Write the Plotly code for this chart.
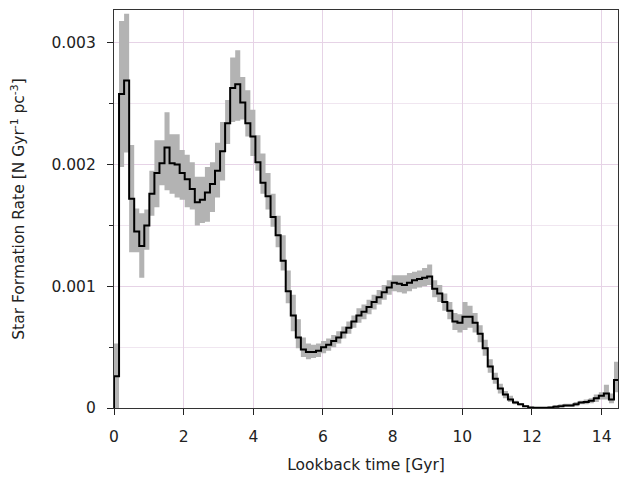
import numpy as np
import plotly.graph_objects as go

# ---- data ----
n_bins = 100
bin_width = 0.145  # Gyr
sfr = [0.00026, 0.00258, 0.00269, 0.00172, 0.00145, 0.00133, 0.00150, 0.00176, 0.00193, 0.00201,
       0.00214, 0.00201, 0.00200, 0.00193, 0.00188, 0.00180, 0.00169, 0.00171, 0.00177, 0.00184,
       0.00195, 0.00211, 0.00234, 0.00263, 0.00266, 0.00251, 0.00234, 0.00223, 0.00202, 0.00185,
       0.00174, 0.00157, 0.00142, 0.00121, 0.00096, 0.00076, 0.00058, 0.00048, 0.00046, 0.00046,
       0.00047, 0.00050, 0.00052, 0.00055, 0.00058, 0.00062, 0.00066, 0.00071, 0.00076, 0.00079,
       0.00083, 0.00087, 0.00091, 0.00095, 0.00099, 0.00103, 0.00102, 0.00101, 0.00103, 0.00105,
       0.00106, 0.00107, 0.00108, 0.00098, 0.00094, 0.00087, 0.00080, 0.00071, 0.00070, 0.00075,
       0.00075, 0.00070, 0.00061, 0.00049, 0.00034, 0.00024, 0.00016, 0.00011, 0.00007, 0.000045,
       0.00003, 0.000015, 0.000005, 0.000003, 0.000003, 0.000003, 0.000005, 0.00001, 0.000015, 0.00002,
       0.00002, 0.00003, 0.000045, 0.00005, 0.00006, 0.00008, 0.0001, 0.00012, 0.00007, 0.00023]
sfr_lo = [0.0, 0.00198, 0.00210, 0.00128, 0.00128, 0.00107, 0.00130, 0.00158, 0.00165, 0.00183,
          0.00179, 0.00176, 0.00173, 0.00171, 0.00165, 0.00163, 0.00150, 0.00152, 0.00153, 0.00161,
          0.00173, 0.00187, 0.00217, 0.00235, 0.00236, 0.00237, 0.00223, 0.00207, 0.00195, 0.00176,
          0.00163, 0.00149, 0.00132, 0.00113, 0.00086, 0.00063, 0.00049, 0.00042, 0.00040, 0.00041,
          0.00042, 0.00045, 0.00047, 0.00050, 0.00053, 0.00057, 0.00061, 0.00066, 0.00070, 0.00073,
          0.00077, 0.00081, 0.00085, 0.00089, 0.00093, 0.00096, 0.00095, 0.00094, 0.00096, 0.00098,
          0.00099, 0.00100, 0.00101, 0.00091, 0.00087, 0.00080, 0.00073, 0.00064, 0.00062, 0.00064,
          0.00066, 0.00062, 0.00054, 0.00043, 0.00029, 0.00020, 0.00012, 0.00008, 0.00005, 0.00003,
          0.00002, 0.000008, 0.0, 0.0, 0.0, 0.0, 0.0, 0.000004, 0.000006, 0.00001,
          0.00001, 0.000015, 0.00003, 0.00003, 0.00004, 0.00005, 0.00007, 0.00007, 0.00004, 0.00013]
sfr_hi = [0.00053, 0.00318, 0.00324, 0.00216, 0.00164, 0.00160, 0.00163, 0.00195, 0.00220, 0.00220,
          0.00243, 0.00225, 0.00225, 0.00212, 0.00208, 0.00202, 0.00190, 0.00190, 0.00198, 0.00202,
          0.00218, 0.00235, 0.00253, 0.00288, 0.00294, 0.00272, 0.00261, 0.00245, 0.00224, 0.00209,
          0.00193, 0.00176, 0.00158, 0.00142, 0.00113, 0.00093, 0.00073, 0.00058, 0.00053, 0.00052,
          0.00053, 0.00055, 0.00057, 0.00060, 0.00063, 0.00067, 0.00071, 0.00076, 0.00082, 0.00085,
          0.00089, 0.00093, 0.00097, 0.00101, 0.00105, 0.00109, 0.00109, 0.00109, 0.00111, 0.00112,
          0.00113, 0.00115, 0.00118, 0.00105, 0.00101, 0.00094, 0.00087, 0.00078, 0.00077, 0.00087,
          0.00084, 0.00078, 0.00068, 0.00056, 0.00040, 0.00029, 0.00020, 0.00014, 0.00010, 0.00006,
          0.00004, 0.000022, 0.00001, 0.000008, 0.000008, 0.000008, 0.000012, 0.000025, 0.00003, 0.000035,
          0.000035, 0.00005, 0.00006, 0.00007, 0.00008, 0.00011, 0.00013, 0.00019, 0.00012, 0.00038]
x_ticks = [0, 2, 4, 6, 8, 10, 12, 14]

edges = [i * bin_width for i in range(n_bins + 1)]
step_x = edges
def step_y(v):
    return list(v) + [v[-1]]

FONT = "DejaVu Sans"
BAND = "#b3b3b3"
GRID = "#e6d3e6"
GRID_MINOR = "#f0e6f0"

fig = go.Figure()
fig.add_trace(go.Scatter(x=step_x, y=step_y(sfr_lo), mode="lines", line_shape="hv",
                         line=dict(width=0, color=BAND), showlegend=False, hoverinfo="skip"))
fig.add_trace(go.Scatter(x=step_x, y=step_y(sfr_hi), mode="lines", line_shape="hv",
                         line=dict(width=0, color=BAND), fill="tonexty", fillcolor=BAND,
                         showlegend=False, hoverinfo="skip"))
fig.add_trace(go.Scatter(x=[0] + step_x, y=[0] + step_y(sfr), mode="lines", line_shape="hv",
                         line=dict(width=2, color="black"), showlegend=False))

fig.update_layout(
    width=619, height=477,
    margin=dict(l=114, r=1, t=10, b=69),
    paper_bgcolor="white", plot_bgcolor="white",
    font=dict(family=FONT, size=15.5, color="#222"),
    xaxis=dict(range=[0, 14.47], tickmode="array", tickvals=x_ticks,
               ticks="outside", ticklen=6, tickwidth=1.2, tickcolor="#222",
               ticklabelstandoff=8,
               showgrid=True, gridcolor=GRID, gridwidth=1.3, zeroline=False,
               showline=True, linecolor="#333", linewidth=1.3, mirror=True,
               title=dict(text="Lookback time [Gyr]", font=dict(size=15.5), standoff=14)),
    yaxis=dict(range=[0, 0.00327], tickmode="linear", tick0=0, dtick=0.001,
               ticks="outside", ticklen=6, tickwidth=1.2, tickcolor="#222",
               ticklabelstandoff=8,
               showgrid=True, gridcolor=GRID, gridwidth=1.3, zeroline=False,
               showline=True, linecolor="#333", linewidth=1.3, mirror=True,
               minor=dict(dtick=0.0005, tick0=0, ticks="outside", ticklen=3.5, tickcolor="#222",
                          showgrid=True, gridcolor=GRID_MINOR, gridwidth=1),
               title=dict(text="Star Formation Rate [N Gyr<sup>-1</sup> pc<sup>-3</sup>]",
                          font=dict(size=15.5), standoff=22)),
)

fig.write_html("out.html")
